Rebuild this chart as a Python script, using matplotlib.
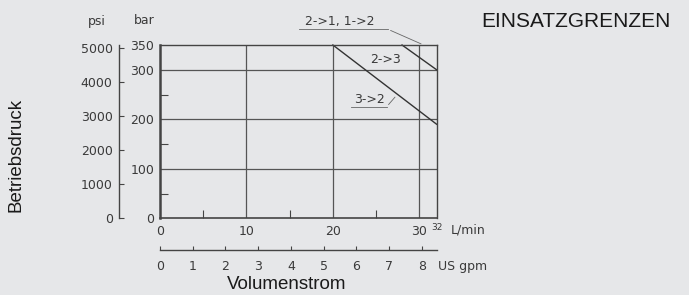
import matplotlib
matplotlib.use("Agg")
import matplotlib.pyplot as plt

# ---- data ----
lmin_ticks = [0, 10, 20, 30]
lmin_minor = [5, 15, 25]
lmin_max = 32
bar_ticks = [0, 100, 200, 300, 350]
bar_minor = [50, 150, 250]
psi_ticks = [0, 1000, 2000, 3000, 4000, 5000]
gpm_ticks = [0, 1, 2, 3, 4, 5, 6, 7, 8]
grid_bar = [100, 200, 300]
grid_lmin = [10, 20, 30]
limit_32_x = [20, 32]
limit_32_y = [350, 190]
limit_23_x = [28, 32]
limit_23_y = [350, 300]
BAR_TO_PSI = 14.5038
GPM_TO_LMIN = 3.785411784

W, H = 689, 295
BG = "#e6e7e9"
LC = "#444444"
TC = "#3a3a3a"
TF = 9

def fx(px):
    return px / W

def fy(py):
    return 1 - py / H

fig = plt.figure(figsize=(W / 100, H / 100), dpi=100, facecolor=BG)

x0, x1 = 160, 436.6
y0, y1 = 218.3, 45
ax = fig.add_axes([fx(x0), fy(y0), fx(x1 - x0), (y0 - y1) / H])
ax.set_facecolor(BG)
ax.set_xlim(0, lmin_max)
ax.set_ylim(0, 350)
for s in ax.spines.values():
    s.set_color(LC)
    s.set_linewidth(1.0)
ax.spines["left"].set_linewidth(1.8)
ax.spines["bottom"].set_linewidth(1.2)

ax.set_xticks(lmin_ticks)
ax.set_xticks(lmin_minor, minor=True)
ax.set_yticks(bar_ticks)
ax.set_yticks(bar_minor, minor=True)
ax.tick_params(axis="x", which="major", length=0, pad=5, labelsize=TF, labelcolor=TC)
ax.tick_params(axis="y", which="major", length=0, pad=4, labelsize=TF, labelcolor=TC)
ax.tick_params(axis="both", which="minor", direction="in", length=5.5, width=0.8, color=LC)

for b in grid_bar:
    ax.axhline(b, color="#555555", lw=0.9, zorder=1)
for l in grid_lmin:
    ax.axvline(l, color="#555555", lw=0.9, zorder=1)

ax.plot(limit_32_x, limit_32_y, color="#333333", lw=1.0, clip_on=False)
ax.plot(limit_23_x, limit_23_y, color="#333333", lw=1.0, clip_on=False)

# annotations
ax.annotate("2->1, 1->2", xy=(30.5, 350), xytext=(fx(340) , fy(22)),
            textcoords="figure fraction", ha="center", va="center",
            fontsize=TF, color=TC, annotation_clip=False)
ax.annotate("", xy=(30.5, 350), xytext=(fx(388), fy(29.3)), textcoords="figure fraction",
            arrowprops=dict(arrowstyle="-", color="#666666", lw=0.6), annotation_clip=False)
fig.add_artist(plt.Line2D([fx(299), fx(388)], [fy(29.3), fy(29.3)], color="#666666", lw=0.6))

fig.text(fx(385), fy(59.5), "2->3", ha="center", va="center", fontsize=TF, color=TC)

fig.text(fx(369.5), fy(99.5), "3->2", ha="center", va="center", fontsize=TF, color=TC)
fig.add_artist(plt.Line2D([fx(351), fx(386.7)], [fy(106.7), fy(106.7)], color="#666666", lw=0.6))
ax.annotate("", xy=(27.4, 249), xytext=(fx(386.7), fy(106.7)), textcoords="figure fraction",
            arrowprops=dict(arrowstyle="-", color="#666666", lw=0.6), annotation_clip=False)

# psi axis
axp = fig.add_axes([fx(119.3), fy(y0), 0.001, (y0 - y1) / H])
axp.set_facecolor("none")
axp.set_ylim(0, 350 * BAR_TO_PSI)
for k in ["top", "right", "bottom"]:
    axp.spines[k].set_visible(False)
axp.spines["left"].set_color(LC)
axp.spines["left"].set_linewidth(1.0)
axp.set_xticks([])
axp.set_yticks(psi_ticks)
axp.tick_params(axis="y", direction="in", length=3.6, width=0.8, color=LC,
                pad=4.8, labelsize=TF, labelcolor=TC)

# gpm axis
axg = fig.add_axes([fx(x0), fy(250), fx(x1 - x0), 0.001])
axg.set_facecolor("none")
axg.set_xlim(0, lmin_max / GPM_TO_LMIN)
for k in ["top", "right", "left"]:
    axg.spines[k].set_visible(False)
axg.spines["bottom"].set_color(LC)
axg.spines["bottom"].set_linewidth(1.0)
axg.set_yticks([])
axg.set_xticks(gpm_ticks)
axg.tick_params(axis="x", direction="in", length=3, width=0.8, color=LC,
                pad=7, labelsize=TF, labelcolor=TC)

# unit labels
fig.text(fx(96.7), fy(21), "psi", ha="center", va="center", fontsize=TF, color=TC)
fig.text(fx(144), fy(21), "bar", ha="center", va="center", fontsize=TF, color=TC)
ax.text(lmin_max, -0.055, "32", transform=ax.get_xaxis_transform(), ha="center", va="center",
        fontsize=6.5, color=TC)
fig.text(fx(451), fy(230), "L/min", ha="left", va="center", fontsize=TF, color=TC)
fig.text(fx(438), fy(266.5), "US gpm", ha="left", va="center", fontsize=TF, color=TC)

# titles
fig.text(fx(287), fy(284.5), "Volumenstrom", ha="center", va="center", fontsize=13.5,
         family="Liberation Sans", color="#1a1a1a")
fig.text(fx(16.5), fy(155), "Betriebsdruck", ha="center", va="center", rotation=90,
         fontsize=13.5, family="Liberation Sans", color="#1a1a1a")
fig.text(fx(481.5), fy(21.5), "EINSATZGRENZEN", ha="left", va="center", fontsize=15,
         family="Liberation Sans", color="#1a1a1a")

fig.savefig("out.png", dpi=100, facecolor=BG)
